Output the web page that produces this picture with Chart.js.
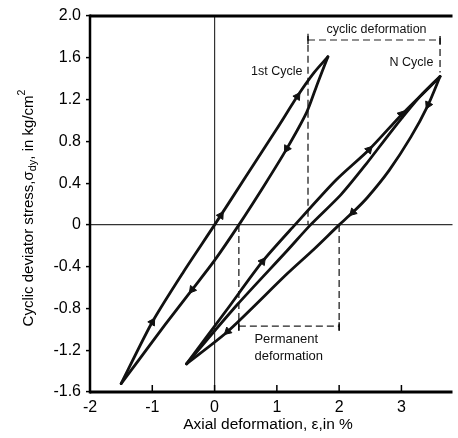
<!DOCTYPE html>
<html>
<head>
<meta charset="utf-8">
<script src="https://cdn.jsdelivr.net/npm/chart.js@4.4.1/dist/chart.umd.min.js"></script>
<style>
  html, body { margin: 0; padding: 0; background: #fff; }
  #wrap { width: 458px; height: 438px; position: relative; }
</style>
</head>
<body>
<div id="wrap"><canvas id="chart" width="458" height="438"></canvas></div>
<script>
// tick labels
const xTicks = [-2, -1, 0, 1, 2, 3];
const yTicks = [2.0, 1.6, 1.2, 0.8, 0.4, 0, -0.4, -0.8, -1.2, -1.6];

// 1st cycle, loading and unloading branches  [strain %, stress kg/cm2]
const cycle1Load = [[-1.5, -1.52], [-1.0, -0.93], [-0.5, -0.45], [0, 0], [0.5, 0.46], [1.0, 0.92], [1.35, 1.25], [1.6, 1.46], [1.82, 1.61]];
const cycle1Unload = [[1.82, 1.61], [1.65, 1.35], [1.48, 1.08], [1.16, 0.73], [0.8, 0.38], [0.39, 0], [0, -0.34], [-0.36, -0.62], [-0.8, -0.96], [-1.2, -1.28], [-1.5, -1.52]];

// N cycle branches
const cycleNLoadA = [[-0.45, -1.33], [0.2, -0.81], [0.77, -0.35], [1.29, 0], [1.95, 0.43], [2.48, 0.72], [3.01, 1.06], [3.62, 1.42]];
const cycleNLoadB = [[-0.45, -1.33], [0.37, -0.76], [1.16, -0.25], [1.54, 0], [2.03, 0.29], [2.43, 0.58], [2.87, 0.92], [3.3, 1.23], [3.62, 1.42]];
const cycleNUnload = [[3.62, 1.42], [3.43, 1.15], [3.15, 0.84], [2.8, 0.52], [2.45, 0.26], [2.22, 0.12], [2.0, 0], [1.6, -0.23], [1.16, -0.47], [0.21, -1.02], [-0.45, -1.33]];

// direction arrows on the branches: position and direction of travel
const arrows = [
  { x: -1.0, y: -0.93, dx: 1, dy: 0.95 },
  { x: 0.1, y: 0.09, dx: 1, dy: 0.93 },
  { x: 1.33, y: 1.23, dx: 1, dy: 0.9 },
  { x: 1.16, y: 0.73, dx: -1, dy: -1.0 },
  { x: -0.36, y: -0.62, dx: -1, dy: -0.75 },
  { x: 0.77, y: -0.35, dx: 1, dy: 0.8 },
  { x: 2.48, y: 0.72, dx: 1, dy: 0.65 },
  { x: 3.0, y: 1.06, dx: 1, dy: 0.65 },
  { x: 3.43, y: 1.15, dx: -1, dy: -1.2 },
  { x: 2.22, y: 0.12, dx: -1, dy: -0.6 },
  { x: 0.21, y: -1.02, dx: -1, dy: -0.55 }
];

// dashed guide lines and brackets
const cyclicLeft = [[1.5, 1.83], [1.5, 0]];
const cyclicRight = [[3.62, 1.79], [3.62, 1.46]];
const cyclicBracket = [[1.5, 1.77], [3.62, 1.77]];
const permLeft = [[0.39, 0], [0.39, -1.03]];
const permRight = [[2.0, 0], [2.0, -1.03]];
const permBracket = [[0.39, -0.97], [2.0, -0.97]];

// text notes, anchored in data units
const notes = [
  { text: "cyclic deformation", x: 2.6, y: 1.87, align: "center", size: 12.5 },
  { text: "1st Cycle", x: 1.41, y: 1.47, align: "right", size: 12.5 },
  { text: "N Cycle", x: 2.81, y: 1.55, align: "left", size: 12.5 },
  { text: "Permanent", x: 0.64, y: -1.1, align: "left", size: 13 },
  { text: "deformation", x: 0.64, y: -1.26, align: "left", size: 13 }
];

const FONT = "'Liberation Sans', Arial, sans-serif";
const toXY = arr => arr.map(p => ({ x: p[0], y: p[1] }));

function curve(data) {
  return {
    data: toXY(data),
    showLine: true,
    borderColor: "#111",
    borderWidth: 2.8,
    pointRadius: 0,
    tension: 0.25,
    borderCapStyle: "round",
    borderJoinStyle: "round"
  };
}

function dashed(data, w) {
  return {
    data: toXY(data),
    showLine: true,
    borderColor: "#222",
    borderWidth: w || 1.3,
    borderDash: [7, 4],
    pointRadius: 0,
    tension: 0
  };
}

const framePlugin = {
  id: "frame",
  afterDraw(chart) {
    const { ctx, chartArea: a } = chart;
    ctx.save();
    ctx.strokeStyle = "#000";
    ctx.lineWidth = 3;
    ctx.beginPath();
    ctx.moveTo(a.left, a.top);
    ctx.lineTo(a.right, a.top);
    ctx.moveTo(a.left, a.bottom);
    ctx.lineTo(a.right, a.bottom);
    ctx.stroke();
    ctx.lineWidth = 2.5;
    ctx.beginPath();
    ctx.moveTo(a.left, a.top - 1.5);
    ctx.lineTo(a.left, a.bottom + 1.5);
    ctx.stroke();

    // inward ticks on the x axis
    const sx = chart.scales.x;
    ctx.lineWidth = 1.5;
    xTicks.forEach(v => {
      const px = sx.getPixelForValue(v);
      ctx.beginPath();
      ctx.moveTo(px, a.bottom);
      ctx.lineTo(px, a.bottom - 7);
      ctx.stroke();
    });

    // notes
    const sy = chart.scales.y;
    ctx.fillStyle = "#111";
    ctx.textBaseline = "middle";
    notes.forEach(n => {
      ctx.font = n.size + "px " + FONT;
      ctx.textAlign = n.align;
      ctx.fillText(n.text, sx.getPixelForValue(n.x), sy.getPixelForValue(n.y));
    });

    // bracket end ticks
    ctx.lineWidth = 1.3;
    [cyclicBracket, permBracket].forEach(br => {
      br.forEach(p => {
        const px = sx.getPixelForValue(p[0]);
        const py = sy.getPixelForValue(p[1]);
        ctx.beginPath();
        ctx.moveTo(px, py - 4);
        ctx.lineTo(px, py + 4);
        ctx.stroke();
      });
    });

    // x title
    ctx.font = "15.5px " + FONT;
    ctx.textAlign = "center";
    ctx.fillStyle = "#000";
    ctx.fillText("Axial deformation, \u03b5,in %", 268, 425);

    // y title with subscript and superscript
    const parts = [
      ["Cyclic deviator stress,\u03c3", 15, 0],
      ["dy", 11, 4],
      [", in kg/cm", 15, 0],
      ["2", 10.5, -7]
    ];
    let total = 0;
    parts.forEach(p => { ctx.font = p[1] + "px " + FONT; total += ctx.measureText(p[0]).width; });
    ctx.translate(29, 208);
    ctx.rotate(-Math.PI / 2);
    ctx.textAlign = "left";
    let cx = -total / 2;
    parts.forEach(p => {
      ctx.font = p[1] + "px " + FONT;
      ctx.fillText(p[0], cx, p[2]);
      cx += ctx.measureText(p[0]).width;
    });
    ctx.restore();
  }
};

new Chart(document.getElementById("chart"), {
  type: "scatter",
  data: {
    datasets: [
      curve(cycle1Load),
      curve(cycle1Unload),
      curve(cycleNLoadA),
      curve(cycleNLoadB),
      curve(cycleNUnload),
      dashed(cyclicLeft),
      dashed(cyclicRight),
      dashed(cyclicBracket, 1.2),
      dashed(permLeft),
      dashed(permRight),
      dashed(permBracket, 1.2),
      {
        data: arrows.map(a => ({ x: a.x, y: a.y })),
        pointStyle: "triangle",
        pointRadius: 4.5,
        backgroundColor: "#111",
        borderColor: "#111",
        borderWidth: 1,
        rotation: c => {
          const a = arrows[c.dataIndex];
          const sx = c.chart.scales.x, sy = c.chart.scales.y;
          const kx = sx.getPixelForValue(1) - sx.getPixelForValue(0);
          const ky = sy.getPixelForValue(0) - sy.getPixelForValue(1);
          return Math.atan2(a.dx * kx, a.dy * ky) * 180 / Math.PI;
        }
      }
    ]
  },
  options: {
    responsive: false,
    animation: false,
    layout: { padding: { top: 16, right: 0, left: 0, bottom: 0 } },
    plugins: { legend: { display: false }, tooltip: { enabled: false } },
    scales: {
      x: {
        type: "linear",
        min: -2,
        max: 3.82,
        afterFit: s => { s.height = 46; },
        afterBuildTicks: s => { s.ticks = xTicks.map(v => ({ value: v })); },
        border: { display: false },
        grid: {
          drawTicks: false,
          color: c => (c.tick && c.tick.value === 0 ? "#333" : "rgba(0,0,0,0)"),
          lineWidth: 1.2
        },
        ticks: {
          padding: 6,
          color: "#000",
          font: { family: FONT, size: 16 },
          callback: v => String(v)
        }
      },
      y: {
        type: "linear",
        min: -1.6,
        max: 2.0,
        afterFit: s => { s.width = 90; },
        afterBuildTicks: s => { s.ticks = yTicks.map(v => ({ value: v })); },
        border: { display: false },
        grid: {
          drawTicks: true,
          tickLength: 4,
          tickColor: "#000",
          tickWidth: 1.5,
          color: c => (c.tick && c.tick.value === 0 ? "#333" : "rgba(0,0,0,0)"),
          lineWidth: 1.2
        },
        ticks: {
          padding: 5,
          color: "#000",
          font: { family: FONT, size: 16 },
          callback: v => (v === 0 ? "0" : v.toFixed(1))
        }
      }
    }
  },
  plugins: [framePlugin]
});
</script>
</body>
</html>
